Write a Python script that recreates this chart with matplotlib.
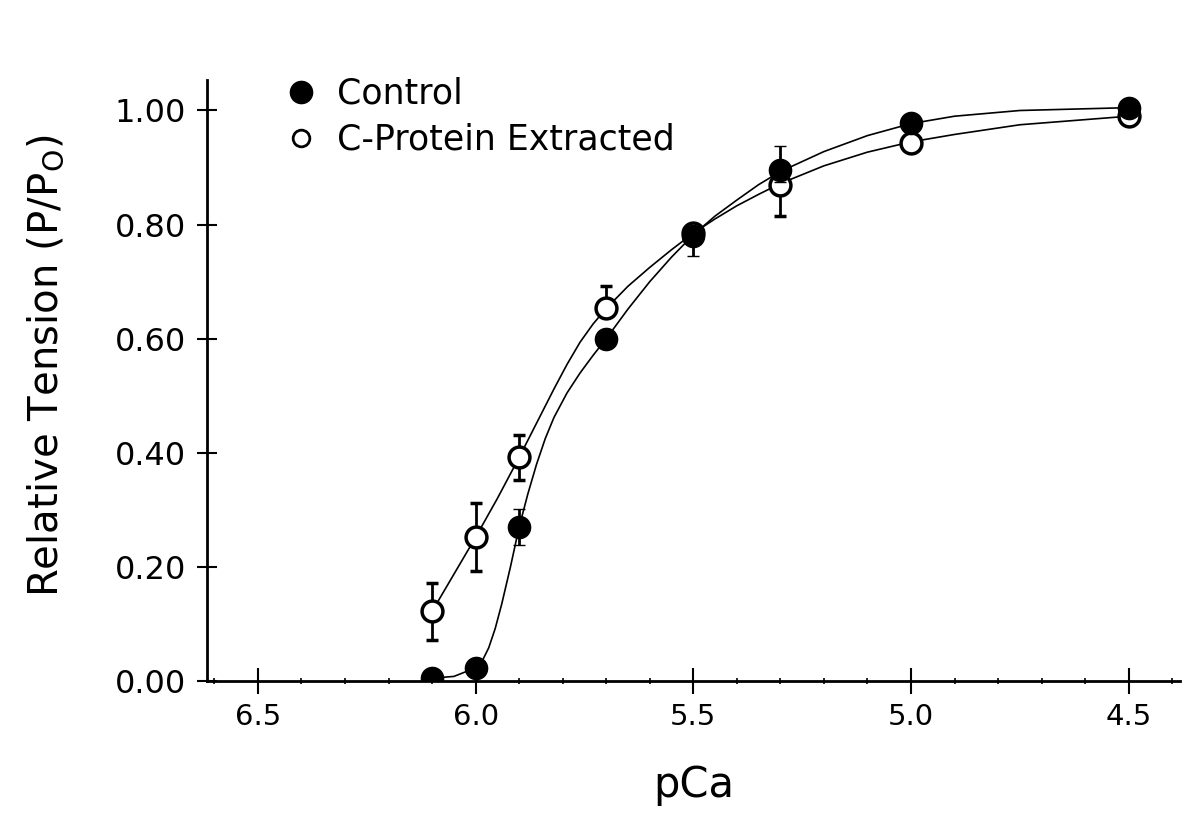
import numpy as np
import matplotlib
matplotlib.use('Agg')
import matplotlib.pyplot as plt
from matplotlib.lines import Line2D

plt.rcParams['font.family'] = ['DejaVu Sans']

# measured points
pca = [6.1, 6.0, 5.9, 5.7, 5.5, 5.3, 5.0, 4.5]

control = [0.005, 0.023, 0.27, 0.60, 0.78, 0.895, 0.978, 1.005]
control_err_lo = [0.0, 0.033, 0.032, 0.0, 0.035, 0.02, 0.0, 0.0]
control_err_hi = [0.0, 0.010, 0.032, 0.0, 0.010, 0.042, 0.0, 0.0]

extracted = [0.122, 0.252, 0.392, 0.653, 0.785, 0.870, 0.943, 0.99]
extracted_err_lo = [0.05, 0.06, 0.04, 0.01, 0.0, 0.055, 0.0, 0.0]
extracted_err_hi = [0.05, 0.06, 0.04, 0.04, 0.0, 0.010, 0.0, 0.0]

# fitted curves
curve_pca_c = [6.10, 6.05, 6.00, 5.985, 5.97, 5.955, 5.94, 5.92, 5.90, 5.88, 5.86,
               5.84, 5.82, 5.79, 5.76, 5.73, 5.70, 5.65, 5.60, 5.55, 5.50, 5.45,
               5.40, 5.35, 5.30, 5.20, 5.10, 5.00, 4.90, 4.75, 4.50]
curve_c = [0.005, 0.008, 0.023, 0.035, 0.058, 0.092, 0.135, 0.20, 0.27, 0.328, 0.38,
           0.425, 0.462, 0.505, 0.54, 0.571, 0.60, 0.652, 0.700, 0.743, 0.782, 0.815,
           0.843, 0.87, 0.893, 0.928, 0.956, 0.977, 0.99, 1.0, 1.005]

curve_pca_e = [6.10, 6.05, 6.00, 5.95, 5.90, 5.86, 5.82, 5.79, 5.76, 5.73, 5.70,
               5.65, 5.60, 5.55, 5.50, 5.45, 5.40, 5.35, 5.30, 5.20, 5.10, 5.00,
               4.90, 4.75, 4.50]
curve_e = [0.122, 0.187, 0.252, 0.32, 0.392, 0.452, 0.512, 0.555, 0.594, 0.626, 0.653,
           0.692, 0.725, 0.756, 0.785, 0.81, 0.833, 0.853, 0.872, 0.903, 0.927, 0.945,
           0.958, 0.975, 0.99]

fig = plt.figure(figsize=(12, 8.19), dpi=100)
ax = fig.add_axes([0.1725, 0.1685, 0.8105, 0.7335])

ax.plot(curve_pca_c, curve_c, color='k', lw=1.2, zorder=2)
ax.plot(curve_pca_e, curve_e, color='k', lw=1.2, zorder=2)

ax.errorbar(pca, extracted, yerr=[extracted_err_lo, extracted_err_hi], fmt='o',
            color='k', mfc='white', mec='k', ms=15, mew=2.5,
            elinewidth=2, capsize=4, capthick=2, zorder=3)
ax.errorbar(pca, control, yerr=[control_err_lo, control_err_hi], fmt='o',
            color='k', mfc='k', mec='k', ms=16, mew=1,
            elinewidth=2, capsize=4, capthick=2, zorder=4)

ax.set_xlim(6.617, 4.383)
ax.set_ylim(0, 1.053)
ax.set_xticks([6.5, 6.0, 5.5, 5.0, 4.5])
ax.set_xticklabels(['6.5', '6.0', '5.5', '5.0', '4.5'])
ax.set_xticks(np.arange(4.4, 6.65, 0.1), minor=True)
ax.set_yticks([0, 0.2, 0.4, 0.6, 0.8, 1.0])
ax.set_yticklabels(['0.00', '0.20', '0.40', '0.60', '0.80', '1.00'])

ax.spines['top'].set_visible(False)
ax.spines['right'].set_visible(False)
ax.spines['left'].set_linewidth(2)
ax.spines['bottom'].set_linewidth(2)

ax.tick_params(axis='x', which='major', direction='inout', length=19, width=1.5,
               labelsize=21, pad=6)
ax.tick_params(axis='x', which='minor', direction='inout', length=4, width=1.2)
ax.tick_params(axis='y', which='major', direction='inout', length=14, width=1.5,
               labelsize=23, pad=8)

ax.set_xlabel('pCa', fontsize=30, labelpad=24)
ax.set_ylabel(r'Relative Tension (P/P$_\mathregular{O}$)', fontsize=29)
ax.yaxis.set_label_coords(-0.145, 0.524)

handles = [Line2D([], [], ls='', marker='o', ms=16, mfc='k', mec='k'),
           Line2D([], [], ls='', marker='o', ms=12, mfc='white', mec='k', mew=2)]
ax.legend(handles, ['Control', 'C-Protein Extracted'], loc='upper left',
          bbox_to_anchor=(0.0787, 1.006), frameon=False, fontsize=25,
          handlelength=1.0, handletextpad=0.54, labelspacing=0.35,
          borderpad=0, borderaxespad=0)

fig.savefig('out.png', dpi=100)
